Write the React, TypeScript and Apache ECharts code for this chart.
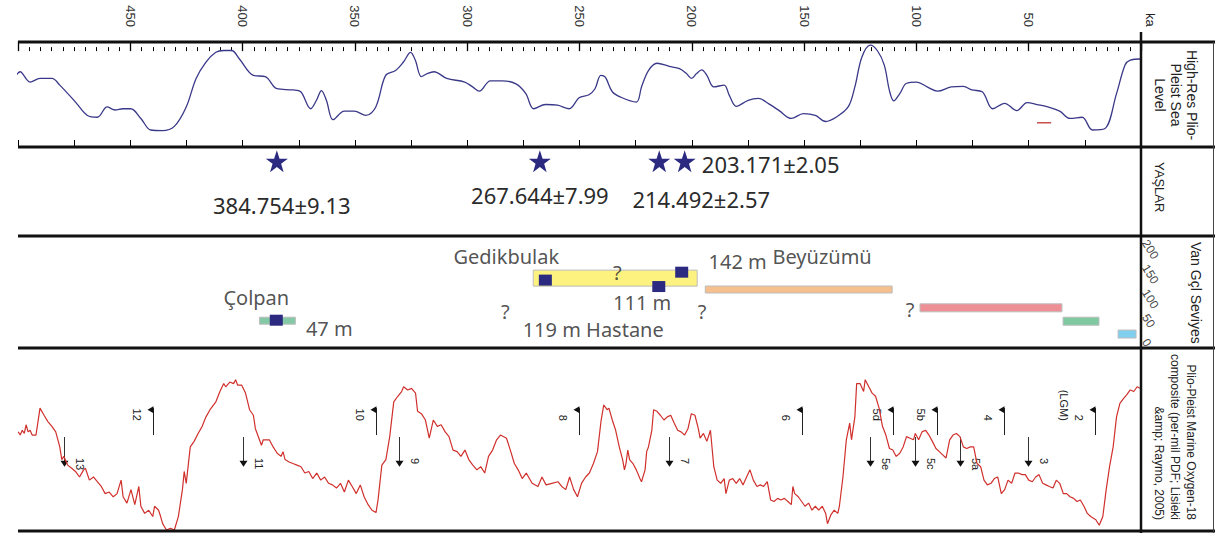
import React, { useEffect, useRef } from "react";
import * as echarts from "echarts";

// ---------- DATA ----------
// top axis (ka)
const kaTickLabels = [50, 100, 150, 200, 250, 300, 350, 400, 450];

// Panel 1: High-Res Plio-Pleist sea level [ka, m]
const seaLevel = [
  [504.3, -70], [499.0, -34], [494.6, -51], [490.2, -45], [484.9, -45], [481.4, -56], [474.4, -84], [469.1, -106],
  [464.7, -109], [460.3, -92], [456.8, -97], [453.3, -95], [449.8, -95], [445.3, -111], [440.9, -130], [435.7, -131],
  [430.4, -124], [425.1, -92], [420.7, -45], [416.3, -18], [411.9, -2], [408.4, 1], [404.9, 1], [401.4, -13],
  [395.2, -40], [389.9, -42], [384.7, -62], [377.6, -64], [374.1, -67], [369.7, -95], [367.1, -81], [364.9, -65],
  [362.7, -81], [359.7, -113], [354.7, -99], [350.3, -99], [345.1, -106], [340.7, -92], [336.3, -40], [331.9, -32],
  [328.4, -18], [325.2, -2], [323.1, -15], [320.4, -42], [317.8, -37], [314.8, -34], [309.1, -45], [301.1, -51],
  [297.6, -59], [294.6, -66], [289.7, -49], [284.4, -49], [278.3, -54], [273.9, -70], [270.4, -95], [265.1, -88],
  [259.8, -89], [254.6, -95], [250.2, -77], [245.8, -72], [243.1, -62], [240.5, -40], [238.5, -43], [235.4, -67],
  [231.6, -76], [224.7, -84], [222.4, -59], [219.3, -32], [215.5, -20], [210.1, -25], [205.5, -29], [202.4, -37],
  [200.1, -45], [197.9, -37], [195.6, -31], [193.3, -40], [190.2, -59], [185.6, -56], [183.3, -73], [180.2, -91],
  [174.9, -81], [170.3, -78], [165.7, -87], [161.1, -98], [155.7, -111], [150.3, -103], [145.0, -106], [140.4, -116],
  [135.8, -109], [130.4, -92], [127.4, -59], [124.3, -10], [120.5, 10], [117.4, 1], [114.3, -23], [112.0, -65],
  [110.1, -82], [107.4, -70], [104.4, -53], [99.8, -51], [95.2, -59], [90.6, -66], [84.5, -59], [79.1, -58],
  [75.3, -64], [70.7, -67], [66.0, -95], [60.7, -86], [55.3, -98], [50.7, -85], [46.2, -88], [41.5, -92],
  [36.2, -99], [31.6, -111], [26.2, -109], [21.6, -130], [16.2, -128], [10.9, -70], [7.1, -23], [4.8, -15], [0.4, -13],
];
const seaLevelMark = [[46.3, -118], [40.0, -118]];

// Panel 2: YAŞLAR (dated ages, ka)
const datedAges = [384.754, 267.644, 214.492, 203.171];
const ageLabels = ["384.754±9.13", "267.644±7.99", "214.492±2.57", "203.171±2.05"];

// Panel 3: Van Gölü levels [startKa, endKa, level m]
const lakeBars = [
  [392.5, 376.5, 39],
  [270.6, 197.6, 125],
  [194.0, 110.8, 102],
  [98.4, 35.2, 65],
  [34.7, 18.7, 38],
  [10.2, 2.2, 12],
];
const lakeSamples = [
  [385.0, 40],
  [265.2, 121],
  [214.7, 108],
  [204.5, 137],
];
const lakeNotes = ["Çolpan", "47 m", "Gedikbulak", "?", "111 m", "?", "119 m Hastane", "?", "142 m", "Beyüzümü", "?"];
const lakeNotePos = [
  [393.9, 85], [361.4, 24], [282.6, 168], [233.2, 137], [222.1, 75], [283.0, 57],
  [243.9, 22], [195.4, 57], [179.6, 158], [142.0, 168], [102.8, 61],
];

// Panel 4: Marine oxygen-18 composite [ka, per-mil]
const d18O = [
  [499.9, 3.76], [499.0, 3.80], [498.1, 3.74], [497.2, 3.78], [496.4, 3.67], [495.5, 3.76], [494.6, 3.74], [493.7, 3.80],
  [492.0, 3.80], [490.2, 3.46], [488.4, 3.55], [486.7, 3.63], [484.9, 3.69], [483.2, 3.76], [481.4, 3.95], [480.5, 4.11],
  [479.6, 4.07], [477.9, 4.18], [476.1, 4.22], [474.4, 4.26], [472.6, 4.33], [470.8, 4.24], [470.0, 4.22], [468.2, 4.37],
  [466.4, 4.33], [464.7, 4.39], [462.9, 4.45], [461.2, 4.54], [459.4, 4.52], [457.6, 4.58], [455.9, 4.54], [454.1, 4.37],
  [453.2, 4.58], [451.5, 4.66], [449.7, 4.49], [448.0, 4.68], [446.2, 4.45], [445.3, 4.70], [443.6, 4.79], [441.8, 4.75],
  [440.0, 4.83], [439.2, 4.70], [437.4, 4.75], [436.5, 4.83], [435.6, 4.92], [433.9, 5.00], [432.1, 4.98], [430.4, 5.00],
  [428.6, 4.83], [426.8, 4.49], [426.0, 4.26], [425.1, 4.41], [423.3, 3.95], [421.6, 3.88], [419.8, 3.78], [418.0, 3.69],
  [416.3, 3.57], [414.5, 3.48], [411.9, 3.38], [410.1, 3.25], [408.4, 3.15], [407.5, 3.19], [405.7, 3.13], [404.0, 3.15],
  [403.1, 3.10], [402.2, 3.17], [400.4, 3.17], [398.7, 3.27], [396.9, 3.48], [395.2, 3.55], [394.3, 3.72], [392.5, 3.86],
  [391.6, 3.93], [390.8, 3.86], [388.1, 3.86], [386.4, 3.95], [384.6, 4.03], [382.9, 4.07], [382.0, 4.01], [381.1, 4.11],
  [379.3, 4.14], [377.6, 4.16], [375.8, 4.18], [374.0, 4.20], [372.3, 4.28], [370.5, 4.26], [368.8, 4.35], [367.0, 4.28],
  [365.2, 4.37], [363.5, 4.33], [361.7, 4.41], [360.0, 4.43], [358.2, 4.47], [356.4, 4.41], [354.7, 4.52], [352.9, 4.37],
  [351.2, 4.45], [349.4, 4.54], [347.6, 4.43], [345.9, 4.58], [344.1, 4.68], [342.4, 4.75], [340.6, 4.78], [339.7, 4.62],
  [338.9, 4.41], [338.0, 4.18], [336.2, 4.11], [334.5, 3.82], [332.7, 3.38], [330.9, 3.31], [329.2, 3.25], [328.3, 3.19],
  [326.5, 3.23], [324.8, 3.21], [323.0, 3.27], [322.1, 3.50], [320.4, 3.53], [318.6, 3.61], [316.9, 3.84], [315.1, 3.61],
  [313.3, 3.69], [311.6, 3.67], [309.8, 3.76], [308.1, 3.82], [306.3, 3.99], [304.5, 4.01], [302.8, 4.07], [301.0, 3.99],
  [299.3, 4.11], [297.5, 4.18], [295.7, 4.24], [294.0, 4.20], [292.2, 4.28], [290.5, 4.07], [288.7, 3.99], [286.9, 3.86],
  [285.2, 3.80], [282.5, 3.84], [280.8, 3.99], [279.0, 4.16], [277.3, 4.24], [275.5, 4.35], [273.7, 4.28], [271.1, 4.41],
  [268.5, 4.45], [266.7, 4.33], [264.9, 4.43], [262.3, 4.41], [259.6, 4.39], [257.9, 4.45], [256.1, 4.49], [254.4, 4.33],
  [252.6, 4.49], [250.9, 4.58], [249.1, 4.41], [247.3, 4.33], [245.6, 4.28], [243.8, 4.16], [242.0, 4.01], [240.4, 3.62],
  [239.2, 3.42], [237.7, 3.48], [236.9, 3.46], [235.4, 3.61], [233.9, 3.74], [232.3, 3.95], [230.8, 4.11], [230.0, 4.24],
  [229.3, 4.16], [228.5, 3.99], [227.7, 4.11], [226.2, 4.16], [224.7, 4.24], [223.1, 4.35], [222.4, 4.39], [220.8, 4.24],
  [220.1, 4.01], [219.3, 3.95], [217.8, 3.74], [217.0, 3.48], [215.5, 3.50], [214.0, 3.55], [212.4, 3.61], [210.9, 3.57],
  [209.4, 3.55], [207.8, 3.65], [206.3, 3.74], [204.8, 3.76], [203.2, 3.80], [201.7, 3.72], [200.2, 3.53], [198.6, 3.55],
  [197.1, 3.72], [196.3, 3.84], [194.8, 3.78], [193.3, 3.88], [191.7, 3.74], [190.2, 4.20], [188.7, 4.37], [187.1, 4.41],
  [185.6, 4.35], [184.8, 4.54], [183.3, 4.37], [181.8, 4.35], [180.2, 4.41], [178.7, 4.35], [177.2, 4.43], [175.6, 4.33],
  [174.1, 4.24], [172.6, 4.37], [171.0, 4.45], [169.5, 4.43], [168.0, 4.45], [166.4, 4.39], [164.9, 4.62], [163.4, 4.64],
  [161.8, 4.60], [160.3, 4.62], [158.8, 4.60], [157.2, 4.64], [155.7, 4.68], [155.0, 4.45], [154.2, 4.54], [152.6, 4.58],
  [151.1, 4.64], [149.6, 4.70], [148.0, 4.66], [146.5, 4.75], [145.0, 4.70], [143.5, 4.75], [141.9, 4.70], [140.4, 4.79],
  [139.6, 4.92], [138.1, 4.81], [136.6, 4.75], [135.0, 4.79], [134.3, 4.70], [132.7, 4.33], [131.2, 3.86], [129.7, 3.65],
  [128.9, 3.86], [127.4, 3.57], [126.6, 3.15], [125.1, 3.15], [123.5, 3.25], [122.8, 3.10], [121.2, 3.19], [119.7, 3.27],
  [118.2, 3.31], [116.6, 3.46], [115.1, 3.69], [113.6, 3.80], [112.0, 3.97], [110.5, 3.99], [109.0, 4.07], [107.4, 4.03],
  [105.9, 3.95], [104.4, 3.82], [102.8, 3.84], [101.3, 3.86], [100.5, 3.78], [99.0, 3.86], [97.5, 3.76], [95.9, 3.74],
  [94.4, 3.80], [92.9, 3.88], [91.3, 3.97], [89.8, 4.01], [88.3, 4.05], [86.8, 4.09], [85.2, 3.86], [83.7, 3.80],
  [82.2, 3.78], [80.6, 3.82], [79.1, 3.95], [77.6, 3.97], [76.0, 3.95], [74.5, 3.95], [73.0, 4.16], [71.4, 4.20],
  [69.9, 4.37], [68.4, 4.43], [66.8, 4.41], [65.3, 4.35], [63.8, 4.33], [62.2, 4.54], [60.7, 4.49], [59.2, 4.37],
  [57.6, 4.41], [56.1, 4.28], [54.6, 4.28], [53.0, 4.30], [51.5, 4.30], [50.0, 4.37], [48.4, 4.39], [46.9, 4.33],
  [45.4, 4.30], [43.8, 4.41], [42.3, 4.43], [40.8, 4.45], [39.2, 4.47], [37.7, 4.37], [36.2, 4.41], [34.6, 4.54],
  [33.1, 4.54], [31.6, 4.58], [30.0, 4.60], [28.5, 4.64], [27.0, 4.62], [25.4, 4.70], [23.9, 4.79], [22.4, 4.83],
  [20.1, 4.87], [18.6, 4.94], [17.0, 4.83], [15.5, 4.49], [14.0, 4.20], [12.4, 3.95], [10.9, 3.57], [9.4, 3.40],
  [7.8, 3.34], [6.3, 3.29], [4.8, 3.23], [3.2, 3.25], [1.7, 3.19], [0.5, 3.21],
];

// MIS markers: flags (stage starts) and arrows
const misFlags = [["12", 440.1], ["10", 340.5], ["8", 250.1], ["6", 150.9], ["5d", 110.4], ["5b", 90.8], ["4", 61.0], ["2\n(LGM)", 20.5]];
const misArrows = [["13", 479.7], ["11", 399.6], ["9", 330.2], ["7", 210.1], ["5e", 120.6], ["5c", 100.6], ["5a", 80.6], ["3", 50.3]];

// ---------- STYLES ----------
const SANS = "'Liberation Sans', Arial, sans-serif";
const NOTO = "'Noto Sans', 'Open Sans', sans-serif";
const starLabelOffsets = [[5, 44], [0, 34], [42, 38], [86, 3]];
const barColors = ["#83c9a5", "#fdf180", "#f6c08e", "#ee8f96", "#7fc9a0", "#80cfef"];
const barHeights = [7, 16, 7, 8, 8, 8];
const STAR = "path://M50,2 L61.8,36.2 L97.6,36.2 L68.6,57.4 L79.4,91.6 L50,70.4 L20.6,91.6 L31.4,57.4 L2.4,36.2 L38.2,36.2 Z";

export default function App() {
  const ref = useRef<HTMLDivElement>(null);

  useEffect(() => {
    if (!ref.current) return;
    const chart = echarts.init(ref.current, undefined, { renderer: "svg" });

    const baseX = { type: "value", min: 0, max: 500, inverse: true, splitLine: { show: false } };
    const grid = (top: number, height: number) => ({ left: 18, right: 74, top, height });

    const markerData = [
      ...misFlags.map(([, ka]) => [ka, 0]),
      ...misArrows.map(([, ka]) => [ka, 1]),
    ];
    const markerLabels = [...misFlags.map((m) => m[0]), ...misArrows.map((m) => m[0])];

    const option: any = {
      animation: false,
      backgroundColor: "#ffffff",
      grid: [grid(42, 105), grid(42, 105), grid(147, 89), grid(241, 99), grid(348, 182)],
      xAxis: [
        {
          ...baseX, gridIndex: 0, position: "top", interval: 50,
          axisLine: { show: false },
          axisTick: { show: true, length: 10, lineStyle: { color: "#000", width: 1.3 } },
          minorTick: { show: true, splitNumber: 10, length: 4, lineStyle: { color: "#000", width: 1 } },
          axisLabel: {
            show: true, rotate: -90, margin: 15, fontSize: 13, color: "#333", fontFamily: SANS,
            formatter: (v: number) => (kaTickLabels.includes(v) ? String(v) : ""),
          },
        },
        {
          ...baseX, gridIndex: 1, position: "top", interval: 25,
          axisLine: { show: false },
          axisTick: { show: true, length: 7, lineStyle: { color: "#000", width: 1 } },
          axisLabel: { show: false },
        },
        { ...baseX, gridIndex: 2, show: false },
        { ...baseX, gridIndex: 3, show: false },
        { ...baseX, gridIndex: 4, show: false },
      ],
      yAxis: [
        { gridIndex: 0, type: "value", min: -158, max: 15, show: false },
        { gridIndex: 1, type: "value", min: 0, max: 1, show: false },
        { gridIndex: 2, type: "value", min: 0, max: 1, show: false },
        {
          gridIndex: 3, type: "value", min: 0, max: 200, interval: 50, position: "right",
          axisLine: { show: false }, axisTick: { show: false }, splitLine: { show: false },
          axisLabel: { rotate: -58, margin: 4, fontSize: 12, color: "#444", fontFamily: SANS },
        },
        { gridIndex: 4, type: "value", min: 2.7, max: 5.0, inverse: true, show: false },
      ],
      series: [
        {
          type: "line", xAxisIndex: 0, yAxisIndex: 0, data: seaLevel, smooth: 0.35, symbol: "none", clip: false,
          lineStyle: { color: "#3a3888", width: 1.3 },
        },
        {
          type: "line", xAxisIndex: 0, yAxisIndex: 0, data: seaLevelMark, symbol: "none",
          lineStyle: { color: "#c9514d", width: 1.5 },
        },
        {
          type: "scatter", xAxisIndex: 2, yAxisIndex: 2, symbol: STAR, symbolSize: 22,
          itemStyle: { color: "#2b2a80", opacity: 1 },
          data: datedAges.map((a, i) => ({
            value: [a, 0.84],
            label: {
              show: true, position: "inside", offset: starLabelOffsets[i], formatter: ageLabels[i],
              fontSize: 22, fontFamily: NOTO, color: "#2b2b2b",
            },
          })),
        },
        {
          type: "custom", xAxisIndex: 3, yAxisIndex: 3, data: lakeBars, encode: { x: [0, 1], y: 2 },
          renderItem: (params: any, api: any) => {
            const s = api.coord([api.value(0), api.value(2)]);
            const e = api.coord([api.value(1), api.value(2)]);
            const h = barHeights[params.dataIndex];
            return {
              type: "rect",
              shape: { x: Math.min(s[0], e[0]), y: s[1] - h / 2, width: Math.abs(e[0] - s[0]), height: h },
              style: { fill: barColors[params.dataIndex], stroke: "#bdbdbd", lineWidth: 1 },
            };
          },
        },
        {
          type: "scatter", xAxisIndex: 3, yAxisIndex: 3, data: lakeSamples, symbol: "rect", symbolSize: [13, 11],
          itemStyle: { color: "#2b2a80", opacity: 1 }, z: 5,
        },
        {
          type: "scatter", xAxisIndex: 3, yAxisIndex: 3, data: lakeNotePos, symbolSize: 1,
          itemStyle: { color: "rgba(0,0,0,0)" },
          label: {
            show: true, position: "inside", fontSize: 20, fontFamily: NOTO, color: "#262626",
            formatter: (p: any) => lakeNotes[p.dataIndex],
          },
        },
        {
          type: "line", xAxisIndex: 4, yAxisIndex: 4, data: d18O, symbol: "none",
          lineStyle: { color: "#d0302c", width: 1.2 },
        },
        {
          type: "custom", xAxisIndex: 4, yAxisIndex: 4, data: markerData, encode: { x: 0 },
          renderItem: (params: any, api: any) => {
            const ka = api.value(0);
            const kind = api.value(1);
            const label = markerLabels[params.dataIndex];
            if (kind === 0) {
              const top = api.coord([ka, 3.46]);
              const bot = api.coord([ka, 3.8]);
              const te = api.coord([ka, 3.62]);
              const x = Math.round(top[0]) + 0.5;
              return {
                type: "group",
                children: [
                  { type: "line", shape: { x1: x, y1: top[1], x2: x, y2: bot[1] }, style: { stroke: "#222", lineWidth: 1 } },
                  { type: "polygon", shape: { points: [[x, top[1] - 2], [x - 6, top[1] + 1.5], [x, top[1] + 5]] }, style: { fill: "#111" } },
                  {
                    type: "text", x: x - 9, y: te[1], rotation: -Math.PI / 2,
                    style: { text: label, align: "right", verticalAlign: "top", fontSize: 11, lineHeight: 15, fill: "#222", fontFamily: SANS },
                  },
                ],
              };
            }
            const top = api.coord([ka, 3.825]);
            const tip = api.coord([ka, 4.2]);
            const ts = api.coord([ka, 4.09]);
            const x = Math.round(top[0]) + 0.5;
            return {
              type: "group",
              children: [
                { type: "line", shape: { x1: x, y1: top[1], x2: x, y2: tip[1] - 5 }, style: { stroke: "#333", lineWidth: 1 } },
                { type: "polygon", shape: { points: [[x - 4, tip[1] - 6], [x + 4, tip[1] - 6], [x, tip[1]]] }, style: { fill: "#111" } },
                {
                  type: "text", x: x + 8, y: ts[1], rotation: -Math.PI / 2,
                  style: { text: label, align: "left", verticalAlign: "bottom", fontSize: 11, lineHeight: 15, fill: "#222", fontFamily: SANS },
                },
              ],
            };
          },
        },
      ],
      graphic: [
        ...[42, 147, 236, 348, 531].map((y) => ({
          type: "line", shape: { x1: 18, y1: y, x2: 1215, y2: y }, style: { stroke: "#111", lineWidth: 3 }, z: 10,
        })),
        { type: "line", shape: { x1: 1141, y1: 32, x2: 1141, y2: 533 }, style: { stroke: "#111", lineWidth: 2.5 }, z: 10 },
        { type: "line", shape: { x1: 1213.5, y1: 42, x2: 1213.5, y2: 533 }, style: { stroke: "#444", lineWidth: 1 }, z: 10 },
        {
          type: "text", x: 1150, y: 13, rotation: -Math.PI / 2, z: 10,
          style: { text: "ka", align: "left", verticalAlign: "middle", fontSize: 13, fill: "#222", fontFamily: SANS },
        },
        {
          type: "text", x: 1176, y: 95, rotation: -Math.PI / 2, z: 10,
          style: { text: "High-Res Plio-\nPleist Sea\nLevel", align: "center", verticalAlign: "middle", fontSize: 14, lineHeight: 16, fill: "#222", fontFamily: SANS },
        },
        {
          type: "text", x: 1159, y: 162, rotation: -Math.PI / 2, z: 10,
          style: { text: "YAŞLAR", align: "left", verticalAlign: "middle", fontSize: 13, fill: "#222", fontFamily: SANS },
        },
        {
          type: "text", x: 1196, y: 242, rotation: -Math.PI / 2, z: 10,
          style: { text: "Van Gçl Seviyes", align: "left", verticalAlign: "middle", fontSize: 14, fill: "#222", fontFamily: SANS },
        },
        {
          type: "text", x: 1175, y: 520, rotation: -Math.PI / 2, z: 10,
          style: {
            text: "Plio-Pleist Marine Oxygen-18\ncomposite (per-mil PDF; Lisieki\n&amp; Raymo, 2005)",
            align: "right", verticalAlign: "middle", fontSize: 12, lineHeight: 16, fill: "#222", fontFamily: SANS,
          },
        },
      ],
    };

    chart.setOption(option);
    return () => chart.dispose();
  }, []);

  return <div ref={ref} style={{ position: "absolute", left: 0, top: 0, width: 1215, height: 533 }} />;
}
